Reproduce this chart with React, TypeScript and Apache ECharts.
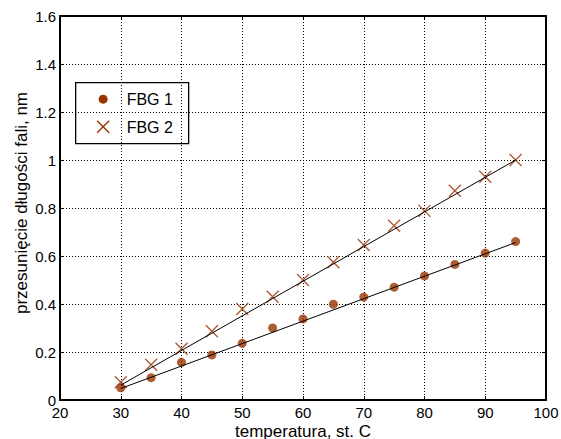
import React, { useEffect, useRef } from "react";
import * as echarts from "echarts";

const temperatures = [30, 35, 40, 45, 50, 55, 60, 65, 70, 75, 80, 85, 90, 95];
const fbg1 = [0.051, 0.093, 0.157, 0.188, 0.236, 0.3, 0.338, 0.399, 0.429, 0.47, 0.517, 0.565, 0.612, 0.66];
const fbg2 = [0.074, 0.147, 0.214, 0.286, 0.379, 0.43, 0.5, 0.574, 0.646, 0.726, 0.788, 0.872, 0.93, 1.0];
const fit1 = [[30, 0.048], [95, 0.656]];
const fit2 = [[30, 0.062], [95, 1.0]];
const seriesNames = ["FBG 1", "FBG 2"];
const xTitle = "temperatura, st. C";
const yTitle = "przesunięcie długości fali, nm";

const MARKER = "#993300";
const FONT = "'Liberation Sans', Arial, Helvetica, sans-serif";
const X_PATH = "path://M0,0L12,12M12,0L0,12";

export default function App() {
  const ref = useRef<HTMLDivElement>(null);
  useEffect(() => {
    if (!ref.current) return;
    const chart = echarts.init(ref.current, undefined, { renderer: "svg" });
    const gridLine = { show: true, lineStyle: { color: "#000", width: 1, type: [1, 2] } };
    const axisLine = { show: true, onZero: false, lineStyle: { color: "#000", width: 2 } };
    const tick = { show: true, inside: true, length: 4, lineStyle: { color: "#000", width: 1 } };
    const label = { color: "#000", fontSize: 15, fontFamily: FONT };
    chart.setOption({
      animation: false,
      backgroundColor: "#fff",
      grid: { left: 60, top: 16, width: 486, height: 384, containLabel: false, outerBoundsMode: "none" },
      xAxis: [
        {
          type: "value", min: 20, max: 100, interval: 10, position: "bottom",
          axisLine, axisTick: tick, splitLine: gridLine,
          axisLabel: { ...label, margin: 5 },
          name: xTitle, nameLocation: "middle", nameGap: 23, nameMoveOverlap: false,
          nameTextStyle: { color: "#000", fontSize: 17, fontFamily: FONT },
        },
        {
          type: "value", min: 20, max: 100, interval: 10, position: "top",
          axisLine, axisTick: tick, splitLine: { show: false }, axisLabel: { show: false },
        },
      ],
      yAxis: [
        {
          type: "value", min: 0, max: 1.6, interval: 0.2, position: "left",
          axisLine, axisTick: tick, splitLine: gridLine,
          axisLabel: { ...label, margin: 4, formatter: (v: number) => String(Math.round(v * 10) / 10) },
        },
        {
          type: "value", min: 0, max: 1.6, interval: 0.2, position: "right",
          axisLine, axisTick: tick, splitLine: { show: false }, axisLabel: { show: false },
        },
      ],
      series: [
        {
          name: seriesNames[0], type: "scatter", symbol: "circle", symbolSize: 9,
          itemStyle: { color: MARKER },
          data: temperatures.map((t, i) => [t, fbg1[i]]), z: 2,
        },
        {
          name: seriesNames[1], type: "scatter", symbol: X_PATH, symbolSize: 12,
          itemStyle: { color: "none", borderColor: MARKER, borderWidth: 1.4 },
          data: temperatures.map((t, i) => [t, fbg2[i]]), z: 2,
        },
        {
          name: "fit1", type: "line", data: fit1, showSymbol: false, symbol: "none",
          lineStyle: { color: "#000", width: 1 }, z: 3,
        },
        {
          name: "fit2", type: "line", data: fit2, showSymbol: false, symbol: "none",
          lineStyle: { color: "#000", width: 1 }, z: 3,
        },
      ],
      graphic: [
        {
          type: "text", x: 21, y: 203, rotation: Math.PI / 2,
          style: { text: yTitle, fill: "#000", font: `17px ${FONT}`, align: "center", verticalAlign: "middle" },
        },
        {
          type: "group", left: 75, top: 82,
          children: [
            { type: "rect", shape: { x: 0, y: 0, width: 113, height: 61 }, style: { fill: "#fff", stroke: "#000", lineWidth: 1.3 } },
            { type: "circle", shape: { cx: 27.5, cy: 16.5, r: 4.5 }, style: { fill: MARKER } },
            { type: "line", shape: { x1: 21.5, y1: 38, x2: 33.5, y2: 50 }, style: { stroke: MARKER, lineWidth: 1.4 } },
            { type: "line", shape: { x1: 33.5, y1: 38, x2: 21.5, y2: 50 }, style: { stroke: MARKER, lineWidth: 1.4 } },
            { type: "text", x: 51, y: 16.5, style: { text: seriesNames[0], fill: "#000", font: `16px ${FONT}`, verticalAlign: "middle" } },
            { type: "text", x: 51, y: 44.5, style: { text: seriesNames[1], fill: "#000", font: `16px ${FONT}`, verticalAlign: "middle" } },
          ],
        },
      ],
    });
    return () => chart.dispose();
  }, []);
  return <div ref={ref} style={{ position: "fixed", left: 0, top: 0, width: 561, height: 439 }} />;
}
